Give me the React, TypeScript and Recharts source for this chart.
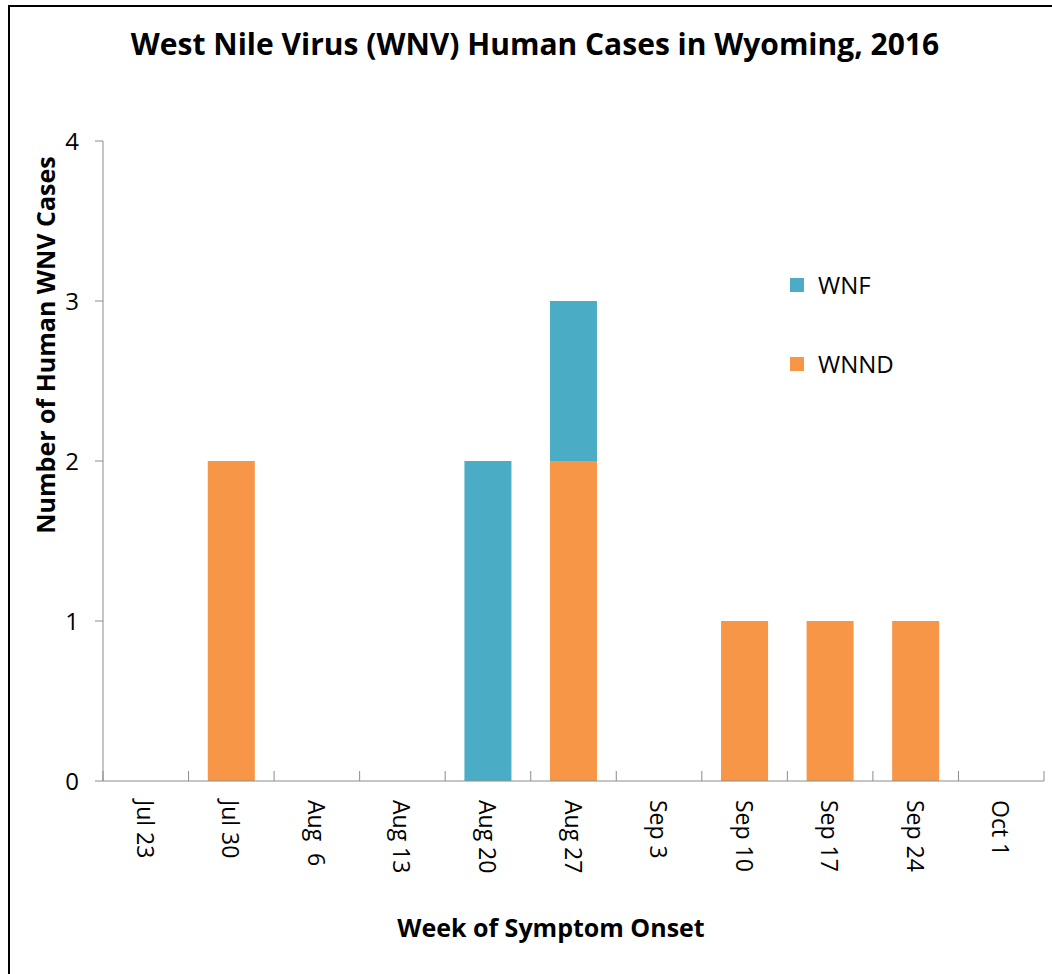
import React from 'react';
import { BarChart, Bar, XAxis, YAxis } from 'recharts';

const weeks = ['Jul 23', 'Jul 30', 'Aug  6', 'Aug 13', 'Aug 20', 'Aug 27', 'Sep 3', 'Sep 10', 'Sep 17', 'Sep 24', 'Oct 1'];
const wnnd = [0, 2, 0, 0, 0, 2, 0, 1, 1, 1, 0];
const wnf = [0, 0, 0, 0, 2, 1, 0, 0, 0, 0, 0];
const yTicks = [0, 1, 2, 3, 4];

const BLUE = '#4BACC6';
const ORANGE = '#F79646';
const AXIS = '#8C8C8C';
const FONT = '"Open Sans", "Noto Sans", sans-serif';

const data = weeks.map((week, i) => ({ week, WNND: wnnd[i], WNF: wnf[i] }));

const WeekTick = (props: any) => {
  const { x, y, payload, index } = props;
  const half = payload.offset || 0;
  return (
    <g>
      <line x1={x - half} x2={x - half} y1={y} y2={y - 10} stroke={AXIS} />
      {index === weeks.length - 1 && (
        <line x1={x + half} x2={x + half} y1={y} y2={y - 10} stroke={AXIS} />
      )}
      <text
        transform={`translate(${x},${y + 19}) rotate(90)`}
        textAnchor="start"
        dominantBaseline="central"
        fontSize={23}
        fontFamily={FONT}
        fill="#000"
        style={{ whiteSpace: 'pre' }}
      >
        {payload.value}
      </text>
    </g>
  );
};

const legendItems = [
  { name: 'WNF', color: BLUE, top: 268 },
  { name: 'WNND', color: ORANGE, top: 347 },
];

export default function App() {
  return (
    <div style={{ position: 'absolute', left: 0, top: 0, width: 1052, height: 974, background: '#fff', fontFamily: FONT }}>
      <div style={{ position: 'absolute', left: 8, top: 5, width: 1044, height: 2, background: '#000' }} />
      <div style={{ position: 'absolute', left: 8, top: 5, width: 2, height: 969, background: '#000' }} />
      <div style={{ position: 'absolute', left: 0, width: 1070, top: 23, textAlign: 'center', fontSize: 30, fontWeight: 700 }}>
        West Nile Virus (WNV) Human Cases in Wyoming, 2016
      </div>
      <div
        style={{
          position: 'absolute', left: 45, top: 345, transform: 'translate(-50%, -50%) rotate(-90deg)',
          fontSize: 25, fontWeight: 700, whiteSpace: 'nowrap',
        }}
      >
        Number of Human WNV Cases
      </div>
      <div style={{ position: 'absolute', left: 0, width: 1102, top: 910, textAlign: 'center', fontSize: 25, fontWeight: 700 }}>
        Week of Symptom Onset
      </div>
      {legendItems.map((item) => (
        <div key={item.name} style={{ position: 'absolute', left: 790, top: item.top, display: 'flex', alignItems: 'center', fontSize: 24 }}>
          <span style={{ width: 14, height: 14, background: item.color, marginRight: 14 }} />
          {item.name}
        </div>
      ))}
      <div style={{ position: 'absolute', left: 0, top: 0 }}>
        <BarChart width={1052} height={974} data={data} margin={{ top: 141, right: 8, bottom: 43, left: 43 }} barCategoryGap="22.5%">
          <XAxis
            dataKey="week"
            height={150}
            axisLine={{ stroke: AXIS }}
            tickLine={false}
            tickSize={0}
            tickMargin={0}
            tick={<WeekTick />}
            interval={0}
          />
          <YAxis
            width={60}
            domain={[0, 4]}
            ticks={yTicks}
            axisLine={{ stroke: AXIS }}
            tickLine={{ stroke: AXIS }}
            tickSize={8}
            tickMargin={16}
            tick={{ fill: '#000', fontSize: 24, fontFamily: FONT }}
          />
          <Bar dataKey="WNND" stackId="a" fill={ORANGE} isAnimationActive={false} />
          <Bar dataKey="WNF" stackId="a" fill={BLUE} isAnimationActive={false} />
        </BarChart>
      </div>
    </div>
  );
}
